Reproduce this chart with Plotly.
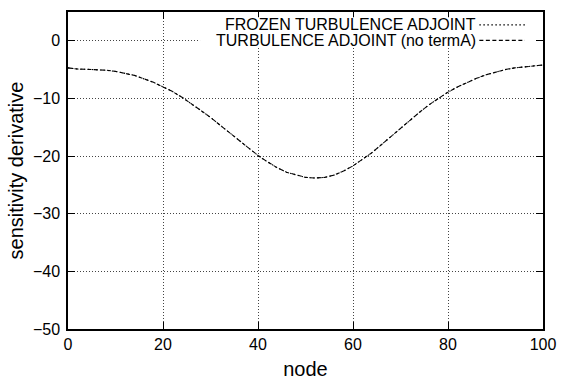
import plotly.graph_objects as go

nodes = [0, 2, 4, 6, 8, 10, 12, 14, 16, 18, 20, 22, 24, 26, 28, 30, 32, 34, 36, 38, 40,
         42, 44, 46, 48, 50, 52, 54, 56, 58, 60, 62, 64, 66, 68, 70, 72, 74, 76, 78, 80,
         82, 84, 86, 88, 90, 92, 94, 96, 98, 100]
frozen = [-4.7, -4.9, -4.95, -5.0, -5.1, -5.3, -5.6, -6.0, -6.6, -7.2, -8.0, -8.8, -9.8,
          -10.9, -12.1, -13.3, -14.6, -15.9, -17.2, -18.6, -19.9, -21.0, -22.0, -22.8,
          -23.3, -23.7, -23.8, -23.7, -23.3, -22.6, -21.7, -20.6, -19.4, -18.0, -16.6,
          -15.1, -13.7, -12.4, -11.1, -10.0, -8.9, -8.0, -7.2, -6.5, -5.9, -5.4, -5.0,
          -4.7, -4.5, -4.3, -4.2]
no_termA = [-4.7, -4.9, -4.95, -5.0, -5.1, -5.3, -5.6, -6.0, -6.6, -7.2, -8.0, -8.8, -9.8,
            -10.9, -12.1, -13.3, -14.6, -15.9, -17.2, -18.6, -19.9, -21.0, -22.0, -22.8,
            -23.3, -23.7, -23.8, -23.7, -23.3, -22.6, -21.7, -20.6, -19.4, -18.0, -16.6,
            -15.1, -13.7, -12.4, -11.1, -10.0, -8.9, -8.0, -7.2, -6.5, -5.9, -5.4, -5.0,
            -4.7, -4.5, -4.3, -4.2]
x_ticks = [0, 20, 40, 60, 80, 100]
y_ticks = [0, -10, -20, -30, -40, -50]
series_names = ["FROZEN TURBULENCE ADJOINT", "TURBULENCE ADJOINT (no termA)"]
series_dash = ["1.5px,2.5px", "4px,2.5px"]

FONT = "Liberation Sans, Arial, sans-serif"

fig = go.Figure()
for name, vals, dash in zip(series_names, [frozen, no_termA], series_dash):
    fig.add_trace(go.Scatter(x=nodes, y=vals, mode="lines", name=name,
                             line=dict(color="black", width=1.1, dash=dash),
                             showlegend=False))

# gnuplot-style key (opaque box, text right-aligned, sample on the right)
fig.add_shape(type="rect", xref="x", yref="y", x0=27.8, x1=98.4, y0=-1.15, y1=4.1,
              fillcolor="white", line=dict(width=0), layer="above")
key_y = [2.75, 0.08]
for name, dash, ky in zip(series_names, series_dash, key_y):
    fig.add_annotation(x=86.3, y=ky, xref="x", yref="y", text=name, showarrow=False,
                       xanchor="right", yanchor="middle",
                       font=dict(family=FONT, size=16, color="black"))
    fig.add_shape(type="line", xref="x", yref="y", x0=86.6, x1=96.2, y0=ky, y1=ky,
                  line=dict(color="black", width=1.2, dash=dash), layer="above")

axis_common = dict(
    showline=True, linecolor="black", linewidth=1.5, mirror="ticks",
    ticks="inside", ticklen=7, tickcolor="black", tickwidth=1,
    showgrid=True, gridcolor="#444444", griddash="1px,2px", gridwidth=1,
    zeroline=False, tickfont=dict(family=FONT, size=16, color="black"),
)
fig.update_xaxes(range=[0, 100], tickvals=x_ticks,
                 title=dict(text="node", font=dict(family=FONT, size=20, color="black"),
                            standoff=10),
                 **axis_common)
fig.update_yaxes(range=[-50, 5], tickvals=y_ticks, ticklabelstandoff=3,
                 title=dict(text="sensitivity derivative",
                            font=dict(family=FONT, size=20, color="black"), standoff=4),
                 **axis_common)
fig.update_layout(width=566, height=387, margin=dict(l=68, r=23, t=10, b=53),
                  plot_bgcolor="white", paper_bgcolor="white",
                  font=dict(family=FONT, color="black"))
fig.write_html("out.html")
